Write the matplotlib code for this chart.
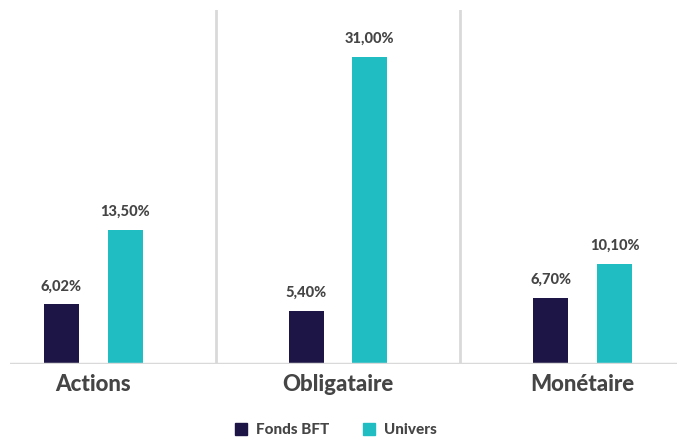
import matplotlib
matplotlib.use("Agg")
import matplotlib.pyplot as plt
from matplotlib.patches import Patch
import numpy as np

categories = ["Actions", "Obligataire", "Monétaire"]
fonds_bft = [6.02, 5.40, 6.70]
univers = [13.50, 31.00, 10.10]
series_names = ["Fonds BFT", "Univers"]

c_dark = "#1d1545"
c_teal = "#20bdc3"
c_text = "#454545"
c_grid = "#d9d9d9"

plt.rcParams['font.family'] = ['Lato', 'DejaVu Sans']

fig = plt.figure(figsize=(6.77, 4.43), dpi=100)
ax = fig.add_axes([10/677, 79/443, 667/677, 354/443])

x = np.arange(len(categories))
w = 0.143
off = 0.13
b1 = ax.bar(x - off, fonds_bft, w, color=c_dark, zorder=3)
b2 = ax.bar(x + off, univers, w, color=c_teal, zorder=3)

def fmt(v):
    return f"{v:.2f}".replace(".", ",") + "%"

for bars, vals in ((b1, fonds_bft), (b2, univers)):
    for r, v in zip(bars, vals):
        ax.annotate(fmt(v), (r.get_x() + r.get_width()/2, v), xytext=(0, 8),
                    textcoords="offset points", ha="center", va="bottom",
                    fontsize=10.5, fontweight="black", color=c_text)

ax.set_xlim(-0.34, 2.385)
ax.set_ylim(0, 35.75)
for s in (0.5, 1.5):
    ax.axvline(s, color=c_grid, lw=2, zorder=1)
ax.axhline(0, color=c_grid, lw=2.5, zorder=4)

for sp in ax.spines.values():
    sp.set_visible(False)
ax.set_yticks([])
ax.set_xticks(x)
ax.set_xticklabels(categories, fontsize=16, fontweight="black", color=c_text)
ax.tick_params(axis="x", length=0, pad=7)

handles = [Patch(color=c_dark), Patch(color=c_teal)]
fig.legend(handles, series_names, loc="center", bbox_to_anchor=(336/677, 1 - 430/443),
           ncol=2, frameon=False, handlelength=0.8, handleheight=0.8,
           columnspacing=2.2, handletextpad=0.6,
           prop={"family": "Lato", "weight": "black", "size": 11})
for t in fig.legends[0].get_texts():
    t.set_color(c_text)

fig.savefig("out.png", dpi=100)
